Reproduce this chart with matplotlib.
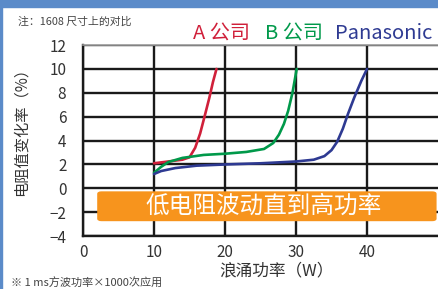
import matplotlib.pyplot as plt
from matplotlib.patches import FancyBboxPatch, Rectangle

plt.rcParams['font.family'] = ['Noto Sans CJK SC', 'DejaVu Sans']

# Data
a_x = [10, 12, 14, 15, 15.8, 16.5, 17.2, 17.8, 18.3, 18.8]
a_y = [2.1, 2.25, 2.4, 2.6, 3.4, 4.6, 6.2, 7.6, 8.9, 10]
b_x = [10, 11, 12, 14, 17, 20, 23, 25.5, 26.8, 27.6, 28.3, 28.9, 29.5, 30.1]
b_y = [1.3, 1.8, 2.2, 2.55, 2.8, 2.9, 3.05, 3.3, 3.8, 4.5, 5.4, 6.5, 8.0, 10]
p_x = [10, 11, 13, 16, 20, 25, 30, 32.5, 34, 35, 35.8, 36.6, 37.3, 38.2, 39.2, 40]
p_y = [1.2, 1.45, 1.7, 1.9, 2.0, 2.1, 2.25, 2.4, 2.7, 3.2, 3.9, 5.0, 6.2, 7.6, 9.0, 10]

series = [("A 公司", a_x, a_y, "#d0203a"),
          ("B 公司", b_x, b_y, "#00994a"),
          ("Panasonic", p_x, p_y, "#2e3a92")]

x_ticks = [0, 10, 20, 30, 40]
y_ticks = [-4, -2, 0, 2, 4, 6, 8, 10, 12]

fig = plt.figure(figsize=(4.38, 2.89), dpi=100)
fig.patches.append(Rectangle((0, 0.975), 1, 0.025, transform=fig.transFigure,
                             color="#5b8bc9", zorder=0))
fig.patches.append(Rectangle((0, 0), 0.005, 1, transform=fig.transFigure,
                             color="#5b8bc9", zorder=0))

ax = fig.add_axes([0.1895, 0.183, 0.8105, 0.661])
ax.set_xlim(0, 50)
ax.set_ylim(-4, 12)
ax.set_xticks(x_ticks)
ax.set_yticks(y_ticks)
ax.set_yticklabels([str(v).replace("-", "\u2212") for v in y_ticks])
ax.grid(True, color="#1a1a1a", linewidth=1.7)
ax.tick_params(axis="y", length=0, labelsize=11, colors="#333333", pad=12)
ax.tick_params(axis="x", length=0, labelsize=11, colors="#333333", pad=6)
for s in ["left", "bottom"]:
    ax.spines[s].set_color("#1a1a1a")
    ax.spines[s].set_linewidth(1.7)
ax.spines["top"].set_color("#999999")
ax.spines["top"].set_linewidth(1.2)
ax.spines["right"].set_visible(False)

for name, xs, ys, c in series:
    ax.plot(xs, ys, color=c, linewidth=1.9, solid_capstyle="round", zorder=3)

box = FancyBboxPatch((2.0, -2.75), 47.8, 2.5, boxstyle="round,pad=0,rounding_size=0.6",
                     facecolor="#f7941d", edgecolor="none", zorder=4,
                     mutation_aspect=0.35)
ax.add_patch(box)
ax.text(25.5, -1.5, "低电阻波动直到高功率", color="white", fontsize=17,
        ha="center", va="center", zorder=5)

ax.set_xlabel("浪涌功率（W）", fontsize=12, color="#333333")
ax.xaxis.set_label_coords(0.544, -0.135)
ax.set_ylabel("电阻值变化率（%）", fontsize=11, color="#333333")
ax.yaxis.set_label_coords(-0.15, 0.565)

# legend as coloured text above the plot
fig.text(0.44, 0.885, "A 公司", color=series[0][3], fontsize=14.5, ha="left", va="center")
fig.text(0.605, 0.885, "B 公司", color=series[1][3], fontsize=14.5, ha="left", va="center")
fig.text(0.764, 0.885, "Panasonic", color=series[2][3], fontsize=14.5, ha="left", va="center")

fig.text(0.04, 0.925, "注：1608 尺寸上的对比", fontsize=7.8, color="#444444", va="center")
fig.text(0.025, 0.022, "※ 1 ms方波功率×1000次应用", fontsize=8, color="#444444", va="center")

fig.savefig("out.png", dpi=100)
